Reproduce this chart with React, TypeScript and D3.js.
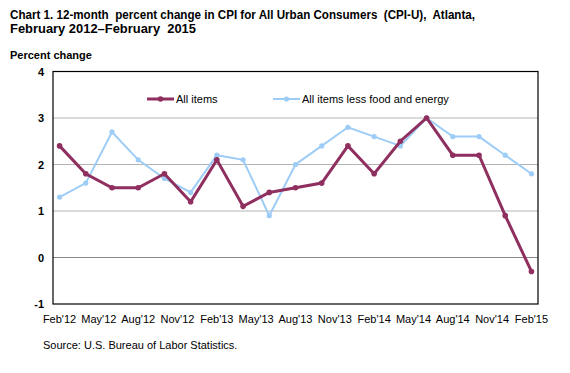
import React, { useEffect, useRef } from 'react'
import * as d3 from 'd3'

// months since Feb 2012, bimonthly readings
const months = [0, 2, 4, 6, 8, 10, 12, 14, 16, 18, 20, 22, 24, 26, 28, 30, 32, 34, 36]
const allItems = [2.4, 1.8, 1.5, 1.5, 1.8, 1.2, 2.1, 1.1, 1.4, 1.5, 1.6, 2.4, 1.8, 2.5, 3.0, 2.2, 2.2, 0.9, -0.3]
const lessFoodEnergy = [1.3, 1.6, 2.7, 2.1, 1.7, 1.4, 2.2, 2.1, 0.9, 2.0, 2.4, 2.8, 2.6, 2.4, 3.0, 2.6, 2.6, 2.2, 1.8]
const tickMonths = [0, 3, 6, 9, 12, 15, 18, 21, 24, 27, 30, 33, 36]
const tickLabels = ["Feb'12", "May'12", "Aug'12", "Nov'12", "Feb'13", "May'13", "Aug'13", "Nov'13", "Feb'14", "May'14", "Aug'14", "Nov'14", "Feb'15"]
const yTicks = [-1, 0, 1, 2, 3, 4]

const FONT = "Arial, 'Liberation Sans', sans-serif"
const MAROON = '#8f2f5f'
const BLUE = '#9dcdf7'

function drawChart(el: SVGSVGElement) {
    const svg = d3.select(el)
    svg.selectAll('*').remove()

    const x = d3.scaleLinear().domain([-0.5, 36.5]).range([53, 538])
    const y = d3.scaleLinear().domain([-1, 4]).range([304, 71.5])

    svg.append('rect').attr('width', 570).attr('height', 373).attr('fill', '#fff')

    // titles
    const titleLines = [
        { text: 'Chart 1. 12-month  percent change in CPI for All Urban Consumers  (CPI-U),  Atlanta,', y: 19, w: 465 },
        { text: 'February 2012\u2013February  2015', y: 33, w: 186 },
    ]
    titleLines.forEach(t => {
        svg.append('text').attr('x', 10).attr('y', t.y)
            .attr('font-family', FONT).attr('font-size', 13.5).attr('font-weight', 'bold')
            .attr('textLength', t.w).attr('lengthAdjust', 'spacingAndGlyphs')
            .style('white-space', 'pre')
            .text(t.text)
    })

    svg.append('text').attr('x', 10).attr('y', 59)
        .attr('font-family', FONT).attr('font-size', 11).attr('font-weight', 'bold')
        .text('Percent change')

    // grid lines
    svg.append('g').selectAll('line')
        .data(yTicks.filter(d => d > -1 && d < 4))
        .enter().append('line')
        .attr('x1', x.range()[0]).attr('x2', x.range()[1])
        .attr('y1', d => y(d)).attr('y2', d => y(d))
        .attr('stroke', d => d === 0 ? '#888' : '#b4b4b4').attr('stroke-width', 1)

    // frame
    svg.append('rect')
        .attr('x', x.range()[0]).attr('y', y(4))
        .attr('width', x.range()[1] - x.range()[0]).attr('height', y(-1) - y(4))
        .attr('fill', 'none').attr('stroke', '#000').attr('stroke-width', 1.2)

    // y labels
    svg.append('g').selectAll('text')
        .data(yTicks).enter().append('text')
        .attr('x', 44).attr('y', d => y(d) + 4)
        .attr('text-anchor', 'end')
        .attr('font-family', FONT).attr('font-size', 11).attr('font-weight', 'bold')
        .text(d => d)

    // x labels
    svg.append('g').selectAll('text')
        .data(tickMonths).enter().append('text')
        .attr('x', d => x(d)).attr('y', 323)
        .attr('text-anchor', 'middle')
        .attr('font-family', FONT).attr('font-size', 11)
        .text((d, i) => tickLabels[i])

    const series = [
        { values: lessFoodEnergy, color: BLUE, width: 2, r: 2.6 },
        { values: allItems, color: MAROON, width: 3, r: 2.8 },
    ]
    const line = d3.line<number>()
        .x((d, i) => x(months[i]))
        .y(d => y(d))

    series.forEach(s => {
        svg.append('path')
            .attr('d', line(s.values))
            .attr('fill', 'none').attr('stroke', s.color)
            .attr('stroke-width', s.width).attr('stroke-linejoin', 'miter')
        svg.append('g').selectAll('circle')
            .data(s.values).enter().append('circle')
            .attr('cx', (d, i) => x(months[i])).attr('cy', d => y(d))
            .attr('r', s.r).attr('fill', s.color)
    })

    // legend
    const legend = [
        { label: 'All items', color: MAROON, width: 3, r: 2.8, x0: 147 },
        { label: 'All items less food and energy', color: BLUE, width: 2, r: 2.6, x0: 273 },
    ]
    legend.forEach(l => {
        const g = svg.append('g')
        g.append('line').attr('x1', l.x0).attr('x2', l.x0 + 27).attr('y1', 99).attr('y2', 99)
            .attr('stroke', l.color).attr('stroke-width', l.width)
        g.append('circle').attr('cx', l.x0 + 13.5).attr('cy', 99).attr('r', l.r).attr('fill', l.color)
        g.append('text').attr('x', l.x0 + 29).attr('y', 103)
            .attr('font-family', FONT).attr('font-size', 11)
            .text(l.label)
    })

    svg.append('text').attr('x', 43).attr('y', 349)
        .attr('font-family', FONT).attr('font-size', 11)
        .text('Source: U.S. Bureau of Labor Statistics.')
}

const App = () => {
    const ref = useRef<SVGSVGElement>(null)
    useEffect(() => {
        if (ref.current) drawChart(ref.current)
    })
    return (
        <svg ref={ref} width={570} height={373}
            style={{ position: 'absolute', left: 0, top: 0 }} />
    )
}

export default App
